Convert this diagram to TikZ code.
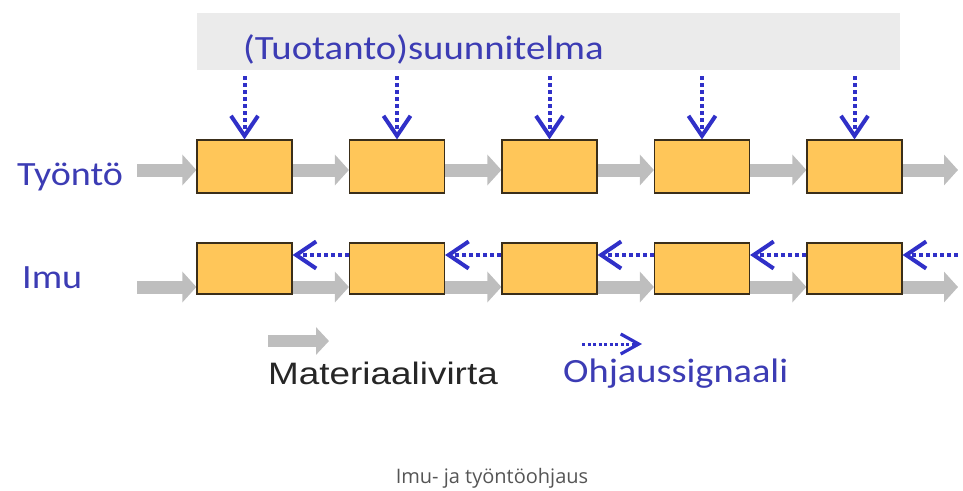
\documentclass[tikz,border=0pt]{standalone}
\usepackage{fontspec}
\setmainfont{Carlito}
\newfontfamily\arialf{Liberation Sans}
\newfontfamily\capf{Open Sans}
\usetikzlibrary{arrows.meta,backgrounds}
\definecolor{sigblue}{HTML}{3030C8}
\definecolor{txtblue}{HTML}{3C3CB4}
\definecolor{boxfill}{HTML}{FFC659}
\definecolor{boxline}{HTML}{3A2E1A}
\definecolor{flowgray}{HTML}{BEBEBE}
\definecolor{bannergray}{HTML}{EBEBEB}
\definecolor{capgray}{HTML}{555555}
\begin{document}
\begin{tikzpicture}[x=1pt,y=-1pt,
 stn/.style={draw=boxline, line width=1.2pt, fill=boxfill, minimum width=95pt, minimum height=53pt, inner sep=0pt},
 stnb/.style={stn, minimum height=51pt},
 flow/.style={draw=flowgray, line width=13pt, -{Triangle[length=14pt,width=30pt]}},
 sig/.style={draw=sigblue, line width=4pt, dash pattern=on 4pt off 3pt, -{Straight Barb[length=20pt,width=27pt,line width=4pt]}},
 sigsmall/.style={draw=sigblue, line width=3pt, dash pattern=on 3pt off 2.5pt, -{Straight Barb[length=18pt,width=20pt,line width=3.2pt]}},
 lbl/.style={text=txtblue, font=\fontsize{34}{40}\selectfont, inner sep=0pt, anchor=base west}]
\useasboundingbox (0,0) rectangle (963,490);
% banner
\node[fill=bannergray, minimum width=703pt, minimum height=57pt, inner sep=0pt] (plan) at (548.5,41.5) {};
\node[lbl] (plantext) at (243,59) {\scalebox{1.14}[1]{(Tuotanto)suunnitelma}};
% labels
\node[lbl] (push) at (17,185) {\scalebox{1.12}[1]{Työntö}};
\node[lbl] (pull) at (22,288) {\scalebox{1.12}[1]{Imu}};
% stations
\foreach \i in {1,...,5} {
  \node[stn] (t\i) at ({244.5+152.5*(\i-1)},166.5) {};
  \node[stnb] (b\i) at ({244.5+152.5*(\i-1)},268.5) {};
  \coordinate (s\i) at ({244.5+152.5*(\i-1)},76);
}
\coordinate (tin) at (137,170);
\coordinate (tout) at (958,170);
\coordinate (bin) at (137,287);
\coordinate (bout) at (958,287);
\coordinate (sigin) at (958,255);
% material flows
\begin{scope}[on background layer]
\draw[flow] (tin) -- ([yshift=-3.5pt]t1.west);
\draw[flow] (bin) -- ([yshift=-18.5pt]b1.west);
\foreach \i/\j in {1/2,2/3,3/4,4/5} {
  \draw[flow] ([yshift=-3.5pt]t\i.east) -- ([yshift=-3.5pt]t\j.west);
  \draw[flow] ([yshift=-18.5pt]b\i.east) -- ([yshift=-18.5pt]b\j.west);
}
\draw[flow] ([yshift=-3.5pt]t5.east) -- (tout);
\draw[flow] ([yshift=-18.5pt]b5.east) -- (bout);
\end{scope}
% control signals
\foreach \i in {1,...,5} {
  \draw[sig] (s\i) -- (t\i.north);
}
\foreach \i/\j in {1/2,2/3,3/4,4/5} {
  \draw[sig] ([yshift=13.5pt]b\j.west) -- ([yshift=13.5pt]b\i.east);
}
\draw[sig] (sigin) -- ([yshift=13.5pt]b5.east);
% legend
\coordinate (lf1) at (268,341);
\coordinate (lf2) at (329,341);
\draw[flow, line width=12pt, -{Triangle[length=13pt,width=27pt]}] (lf1) -- (lf2);
\coordinate (ls1) at (582,344);
\coordinate (ls2) at (642,344);
\draw[sigsmall] (ls1) -- (ls2);
\node[anchor=base west, inner sep=0pt, font=\arialf\fontsize{31}{36}\selectfont, text=black!85] (mattext) at (268,384) {\scalebox{1.19}[1]{Materiaalivirta}};
\node[lbl] (sigtext) at (563,382) {\scalebox{1.13}[1]{Ohjaussignaali}};
% caption
\node[inner sep=0pt, font=\capf\fontsize{20}{24}\selectfont, text=capgray] (caption) at (492,478) {Imu- ja työntöohjaus};
\end{tikzpicture}
\end{document}
